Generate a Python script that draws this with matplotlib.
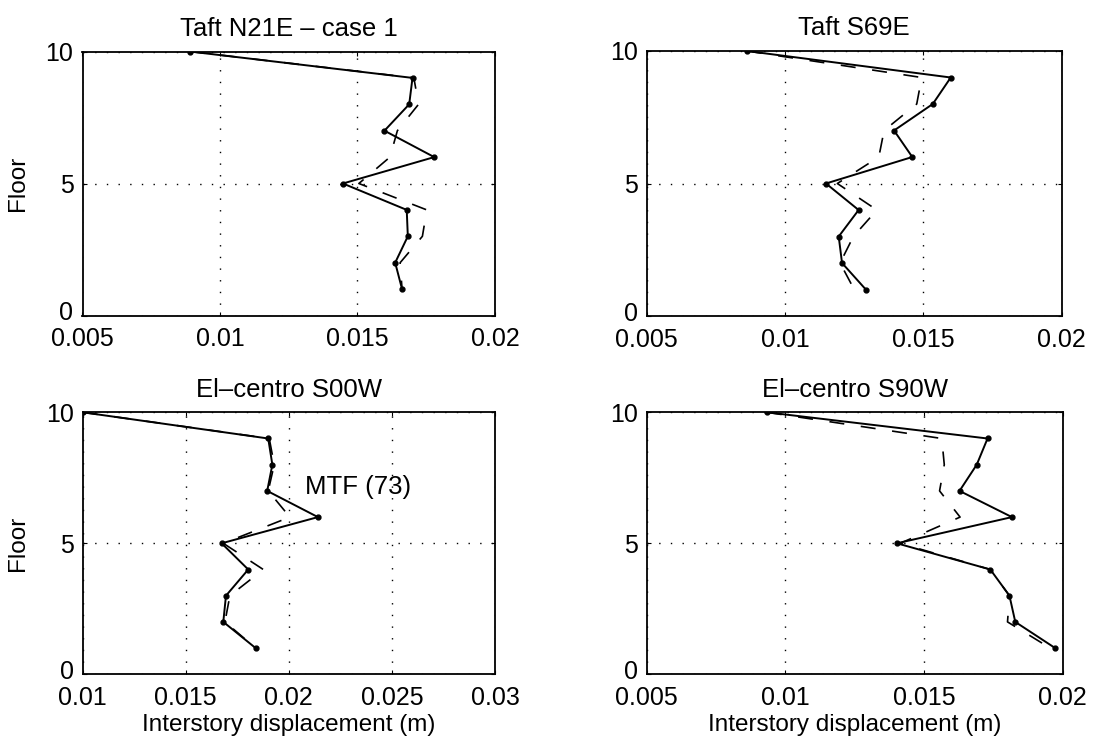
import matplotlib
matplotlib.use("Agg")
import matplotlib.pyplot as plt
import matplotlib.transforms as mtransforms
import numpy as np

plt.rcParams['font.family'] = ['Liberation Sans', 'DejaVu Sans']
plt.rcParams['font.size'] = 18

floors = [10, 9, 8, 7, 6, 5, 4, 3, 2, 1]

titles = ["Taft N21E \u2013 case 1", "Taft S69E", "El\u2013centro S00W", "El\u2013centro S90W"]

# solid (with dots) and dashed series per panel
taft_n21e_solid = [0.0089, 0.0170, 0.01688, 0.01598, 0.01779, 0.01447, 0.01679, 0.01683, 0.01637, 0.01662]
taft_n21e_dash = [0.0089, 0.01705, 0.01722, 0.01645, 0.01618, 0.01505, 0.01752, 0.01736, 0.01655, 0.01662]

taft_s69e_solid = [0.00862, 0.01599, 0.01534, 0.01394, 0.0146, 0.01148, 0.01266, 0.01194, 0.01206, 0.01292]
taft_s69e_dash = [0.00862, 0.01494, 0.01476, 0.01358, 0.01339, 0.01189, 0.01332, 0.01247, 0.01199, 0.0125]

elc_s00w_solid = [0.0100, 0.0190, 0.0192, 0.01895, 0.02141, 0.01674, 0.01803, 0.01695, 0.01682, 0.01839]
elc_s00w_dash = [0.0100, 0.01905, 0.01929, 0.0190, 0.02005, 0.01682, 0.01876, 0.01714, 0.0169, 0.01839]

elc_s90w_solid = [0.00933, 0.01729, 0.0169, 0.01628, 0.01817, 0.01402, 0.01739, 0.01808, 0.01829, 0.01973]
elc_s90w_dash = [0.00933, 0.01564, 0.01573, 0.01556, 0.0163, 0.01414, 0.01739, 0.01808, 0.01801, 0.01955]

solids = [taft_n21e_solid, taft_s69e_solid, elc_s00w_solid, elc_s90w_solid]
dashes = [taft_n21e_dash, taft_s69e_dash, elc_s00w_dash, elc_s90w_dash]

xlims = [(0.005, 0.02), (0.005, 0.02), (0.01, 0.03), (0.005, 0.02)]
xticks = [[0.005, 0.01, 0.015, 0.02], [0.005, 0.01, 0.015, 0.02],
          [0.01, 0.015, 0.02, 0.025, 0.03], [0.005, 0.01, 0.015, 0.02]]
xticklabels = [["0.005", "0.01", "0.015", "0.02"], ["0.005", "0.01", "0.015", "0.02"],
               ["0.01", "0.015", "0.02", "0.025", "0.03"], ["0.005", "0.01", "0.015", "0.02"]]
yticks = [0, 5, 10]
yticklabels = ["0", "5", "10"]

fig = plt.figure(figsize=(10.94, 7.5), dpi=100)
W, H = 1094, 750
boxes = [(82.5, 51.5, 495, 315.5), (646.7, 51.0, 1061.7, 316.0),
         (82.7, 412.3, 495, 674.3), (646.7, 412.3, 1062.7, 674.3)]

for i, (x0, y0, x1, y1) in enumerate(boxes):
    ax = fig.add_axes([x0 / W, 1 - y1 / H, (x1 - x0) / W, (y1 - y0) / H])
    ax.plot(dashes[i], floors, color='black', lw=1.2, linestyle=(0, (9, 10)))
    ax.plot(solids[i], floors, color='black', lw=1.4, marker='o', markersize=3.5)
    ax.set_xlim(*xlims[i])
    ax.set_ylim(0, 10)
    ax.set_xticks(xticks[i])
    ax.set_xticklabels(xticklabels[i])
    ax.set_yticks(yticks)
    ax.set_yticklabels(yticklabels)
    ax.tick_params(direction='in', length=3, width=0.8, top=True, right=True)
    ax.tick_params(axis='x', pad=8.5)
    ax.tick_params(axis='y', pad=6.5)
    # lift the "0" label slightly so it clears the x tick labels
    lab0 = ax.get_yticklabels()[0]
    lab0.set_transform(lab0.get_transform() +
                       mtransforms.ScaledTranslation(0, 3.5 / 72, fig.dpi_scale_trans))
    ax.grid(True, color='black', linestyle=(0, (1, 7.4)), linewidth=1.0)
    for s in ax.spines.values():
        s.set_linewidth(1.3)
    ax.set_title(titles[i], pad=11.2, fontsize=18.5)
    if i in (0, 2):
        ax.set_ylabel("Floor", labelpad=12, fontsize=17.5)
    if i in (2, 3):
        ax.set_xlabel("Interstory displacement (m)", labelpad=3, fontsize=17.5)
    if i == 2:
        ax.text(0.0208, 7.15, "MTF (73)", ha='left', va='center', fontsize=18.5)

fig.savefig("out.png", dpi=100)
